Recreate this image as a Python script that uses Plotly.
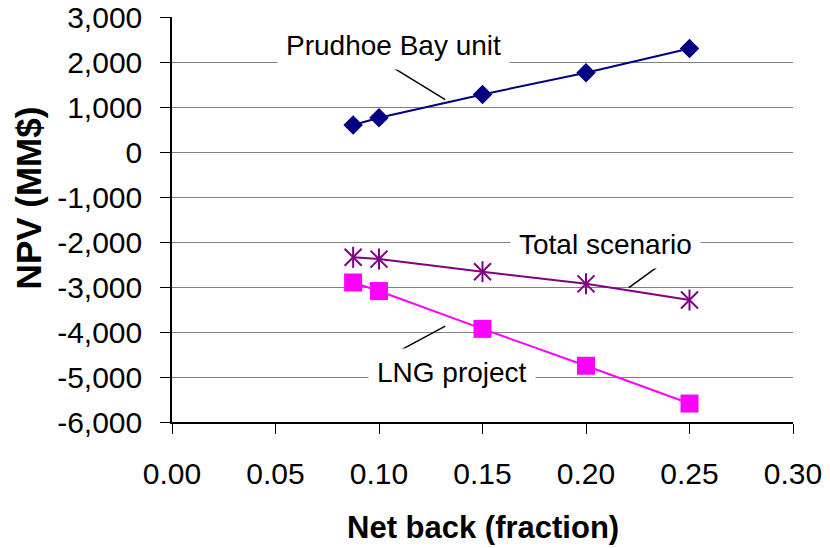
import plotly.graph_objects as go

netback = [0.0875, 0.10, 0.15, 0.20, 0.25]
prudhoe = [600, 760, 1280, 1760, 2300]
total = [-2340, -2380, -2660, -2930, -3290]
lng = [-2900, -3090, -3930, -4750, -5590]

x_ticks = [0.00, 0.05, 0.10, 0.15, 0.20, 0.25, 0.30]
y_ticks = [3000, 2000, 1000, 0, -1000, -2000, -3000, -4000, -5000, -6000]

FONT = "Liberation Sans, Arial, sans-serif"
NAVY = "#000080"
PURPLE = "#800080"
MAGENTA = "#FF00FF"

fig = go.Figure()

fig.add_trace(go.Scatter(x=netback, y=prudhoe, mode="lines+markers",
                         line=dict(color=NAVY, width=2),
                         marker=dict(symbol="diamond", size=15, color=NAVY),
                         showlegend=False))
fig.add_trace(go.Scatter(x=netback, y=total, mode="lines+markers",
                         line=dict(color=PURPLE, width=2),
                         marker=dict(symbol="x-thin-open", size=17, color=PURPLE,
                                     line=dict(color=PURPLE, width=2)),
                         showlegend=False))
fig.add_trace(go.Scatter(x=netback, y=total, mode="markers",
                         marker=dict(symbol="line-ns-open", size=15, color=PURPLE,
                                     line=dict(color=PURPLE, width=2)),
                         showlegend=False))
fig.add_trace(go.Scatter(x=netback, y=lng, mode="lines+markers",
                         line=dict(color=MAGENTA, width=2),
                         marker=dict(symbol="square", size=18, color=MAGENTA),
                         showlegend=False))

# leader lines
leaders = [
    (0.1003, 2056, 0.132, 1164),
    (0.240, -2369, 0.2207, -3015),
    (0.108, -4463, 0.132, -3870),
]
for x0, y0, x1, y1 in leaders:
    fig.add_shape(type="line", xref="x", yref="y", x0=x0, y0=y0, x1=x1, y1=y1,
                  line=dict(color="black", width=1.5))

labels = [
    ("Prudhoe Bay unit", 0.1072, 2367),
    ("Total scenario", 0.2096, -2050),
    ("LNG project", 0.1353, -4895),
]
for text, x, y in labels:
    fig.add_annotation(x=x, y=y, xref="x", yref="y", text=text, showarrow=False,
                       bgcolor="white", borderpad=8,
                       font=dict(family=FONT, size=28, color="black"))

# axis titles
fig.add_annotation(x=0.5, y=-0.26, xref="paper", yref="paper",
                   text="<b>Net back (fraction)</b>", showarrow=False,
                   xanchor="center", yanchor="middle",
                   font=dict(family=FONT, size=31, color="black"))
fig.add_annotation(x=-0.231, y=0.5535, xref="paper", yref="paper",
                   text="<b>NPV (MM$)</b>", showarrow=False, textangle=-90,
                   xanchor="center", yanchor="middle",
                   font=dict(family=FONT, size=35, color="black"))

fig.update_layout(
    width=830, height=548,
    margin=dict(l=172, r=37, t=17, b=126),
    paper_bgcolor="white", plot_bgcolor="white",
    font=dict(family=FONT, color="black"),
)
fig.update_xaxes(range=[0, 0.30], tickvals=x_ticks,
                 ticktext=[f"{v:.2f}" for v in x_ticks],
                 showgrid=False, zeroline=False, automargin=False,
                 showline=True, linecolor="black", linewidth=1.5,
                 ticks="outside", ticklen=10, tickcolor="black", tickwidth=1,
                 ticklabelstandoff=14,
                 tickfont=dict(family=FONT, size=30))
fig.update_yaxes(range=[-6000, 3000], tickvals=y_ticks,
                 ticktext=[f"{v:,}" for v in y_ticks],
                 showgrid=True, gridcolor="#808080", gridwidth=1,
                 zeroline=False, automargin=False,
                 showline=True, linecolor="black", linewidth=1.5,
                 ticks="outside", ticklen=10, tickcolor="black", tickwidth=1,
                 ticklabelstandoff=12,
                 tickfont=dict(family=FONT, size=30))

fig.write_html("out.html")
